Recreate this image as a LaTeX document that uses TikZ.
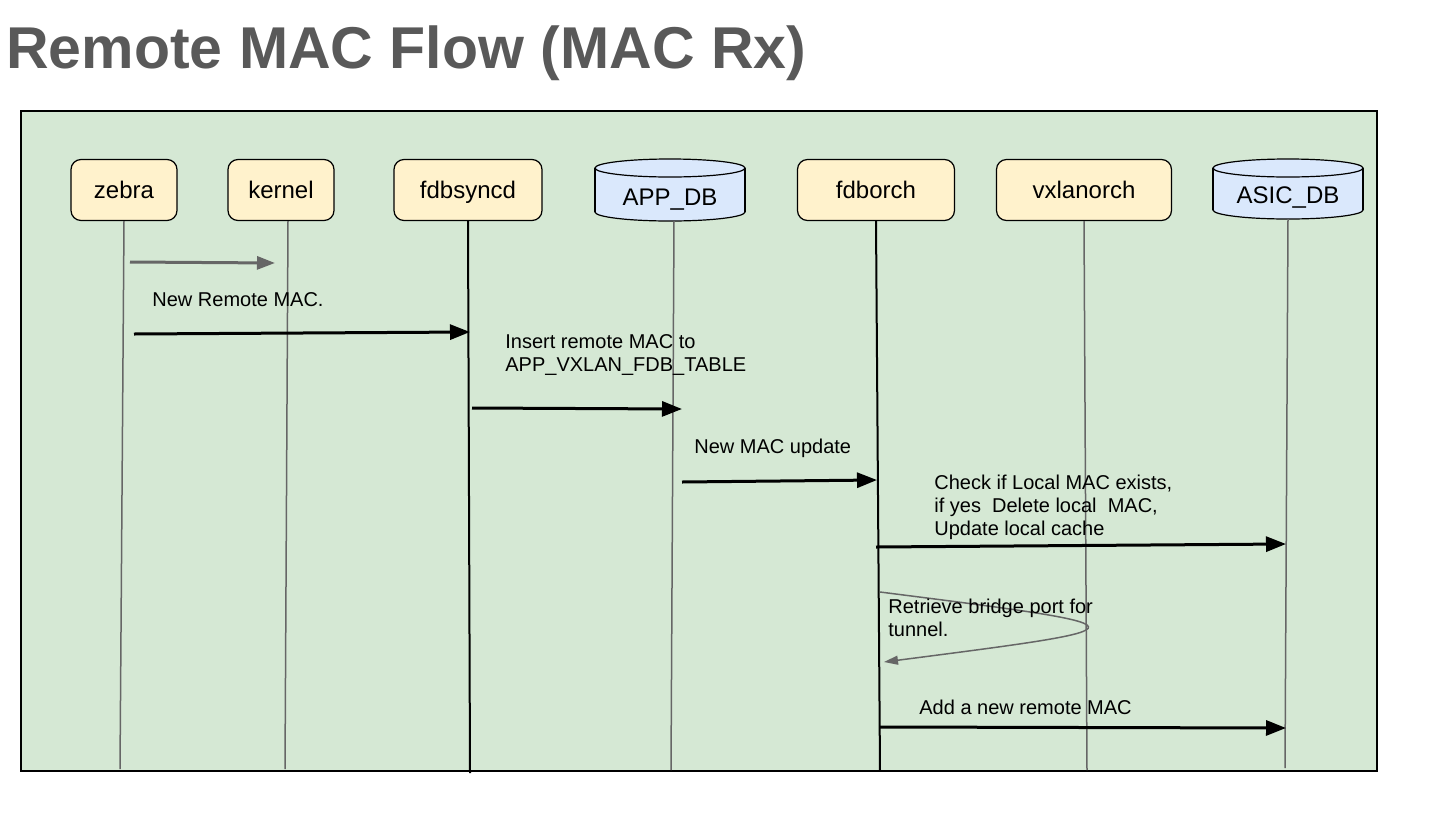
\documentclass[tikz,border=0pt]{standalone}
\usepackage{fontspec}
\setmainfont{Liberation Sans}
\usetikzlibrary{arrows.meta}
\definecolor{frameGreen}{HTML}{D5E8D4}
\definecolor{boxYellow}{HTML}{FFF2CC}
\definecolor{dbBlue}{HTML}{DAE8FC}
\definecolor{lineGray}{HTML}{666666}
\definecolor{titleGray}{HTML}{595959}

\begin{document}
\begin{tikzpicture}[x=0.5pt,y=-0.5pt,
  proc/.style={draw,rounded corners=5pt,fill=boxYellow,line width=0.6pt,inner sep=0pt,minimum height=30.5pt,text height=8.7pt,text depth=0pt,font=\fontsize{12}{14}\selectfont},
  dbtext/.style={inner sep=0pt,text height=8.7pt,text depth=0pt,font=\fontsize{12}{14}\selectfont},
  lifeline/.style={lineGray,line width=0.75pt},
  mainline/.style={black,line width=1pt},
  msg/.style={line width=1.5pt,-{Triangle[length=10pt,width=7.5pt]}},
  lbl/.style={inner sep=0pt,align=left,font=\fontsize{10}{11.5}\selectfont}]
  \useasboundingbox (0,0) rectangle (1436,815);
  \node[anchor=base west,inner sep=0pt,text=titleGray,font=\bfseries\fontsize{29.5}{34}\selectfont] (title) at (6,68) {Remote MAC Flow (MAC Rx)};
  \draw[fill=frameGreen,line width=0.8pt] (21,111) rectangle (1377,771);
  % participants
  \node[proc,minimum width=53pt] (zebra) at (124,190) {zebra};
  \node[proc,minimum width=53pt] (kernel) at (281,190) {kernel};
  \node[proc,minimum width=74pt] (fdbsyncd) at (468,190) {fdbsyncd};
  \node[proc,minimum width=78.5pt] (fdborch) at (876,190) {fdborch};
  \node[proc,minimum width=87.5pt] (vxlanorch) at (1084,190) {vxlanorch};
  % databases
  \filldraw[fill=dbBlue,line width=0.6pt] (670,212) ellipse [x radius=75,y radius=9];
  \fill[dbBlue] (595,168) rectangle (745,212);
  \draw[line width=0.6pt] (595,168) -- (595,212) (745,168) -- (745,212);
  \filldraw[fill=dbBlue,line width=0.6pt] (670,168) ellipse [x radius=75,y radius=9];
  \node[dbtext] (appdb) at (670,197) {APP\_DB};
  \filldraw[fill=dbBlue,line width=0.6pt] (1288,210) ellipse [x radius=75,y radius=9];
  \fill[dbBlue] (1213,168) rectangle (1363,210);
  \draw[line width=0.6pt] (1213,168) -- (1213,210) (1363,168) -- (1363,210);
  \filldraw[fill=dbBlue,line width=0.6pt] (1288,168) ellipse [x radius=75,y radius=9];
  \node[dbtext] (asicdb) at (1288,195) {ASIC\_DB};
  % lifelines
  \coordinate (appdbBase) at (674,221);
  \coordinate (asicdbBase) at (1288,219);
  \coordinate (zebraEnd) at (120,769);
  \coordinate (kernelEnd) at (285,769);
  \coordinate (fdbsyncdEnd) at (470,773);
  \coordinate (appdbEnd) at (671,770);
  \coordinate (fdborchEnd) at (880,771);
  \coordinate (vxlanorchEnd) at (1087,770);
  \coordinate (asicdbEnd) at (1285,768);
  \draw[lifeline] (zebra.south) -- (zebraEnd);
  \draw[lifeline] (kernel.south) ++(7,0) -- (kernelEnd);
  \draw[mainline] (fdbsyncd.south) -- (fdbsyncdEnd);
  \draw[lifeline] (appdbBase) -- (appdbEnd);
  \draw[mainline] (fdborch.south) -- (fdborchEnd);
  \draw[lifeline] (vxlanorch.south) -- (vxlanorchEnd);
  \draw[lifeline] (asicdbBase) -- (asicdbEnd);
  % messages
  \coordinate (m1a) at (130,262);  \coordinate (m1b) at (275,263);
  \coordinate (m2a) at (134,334);  \coordinate (m2b) at (470,332);
  \coordinate (m3a) at (472,408);  \coordinate (m3b) at (682,409);
  \coordinate (m4a) at (682,482);  \coordinate (m4b) at (877,480);
  \coordinate (m5a) at (876,547);  \coordinate (m5b) at (1286,544);
  \coordinate (m6a) at (880,592);  \coordinate (m6b) at (884,662);
  \coordinate (m7a) at (880,727);  \coordinate (m7b) at (1286,728);
  \draw[msg,lineGray,-{Triangle[length=9pt,width=6.5pt]}] (m1a) -- (m1b);
  \draw[msg] (m2a) -- (m2b);
  \draw[msg] (m3a) -- (m3b);
  \draw[msg] (m4a) -- (m4b);
  \draw[msg] (m5a) -- (m5b);
  \draw[lineGray,line width=0.75pt,-{Triangle[length=7pt,width=4.5pt]}] (m6a) .. controls (1155,627) .. (m6b);
  \draw[msg] (m7a) -- (m7b);
  % labels
  \node[lbl,anchor=base west] (newremote) at (152,306) {New Remote MAC.};
  \node[lbl,anchor=north west] (insert) at (505,334) {Insert remote MAC to\\APP\_VXLAN\_FDB\_TABLE};
  \node[lbl,anchor=base west] (newmac) at (694,453) {New MAC update};
  \node[lbl,anchor=north west] (check) at (934,475) {Check if Local MAC exists,\\if yes\ \ Delete local\ \ MAC,\\Update local cache};
  \node[lbl,anchor=north west] (retrieve) at (888,599) {Retrieve bridge port for\\tunnel.};
  \node[lbl,anchor=base west] (addnew) at (919,714) {Add a new remote MAC};
\end{tikzpicture}
\end{document}
